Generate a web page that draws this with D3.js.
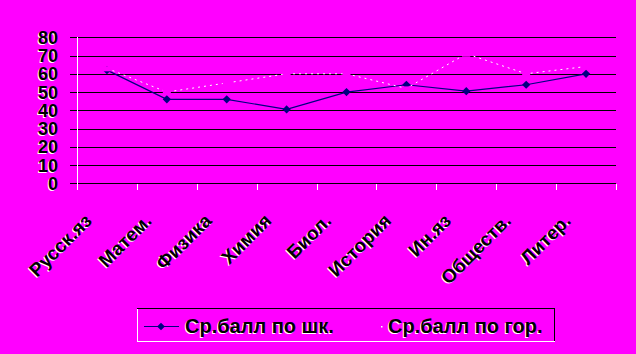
<!DOCTYPE html>
<html>
<head>
<meta charset="utf-8">
<script src="https://cdn.jsdelivr.net/npm/d3@7"></script>
<style>
  body { margin: 0; background: #ff00ff; }
  text { font-family: "Liberation Sans", Arial, sans-serif; font-weight: bold; }
</style>
</head>
<body>
<div id="chart"></div>
<script>
// data
var subjects = ["Русск.яз", "Матем.", "Физика", "Химия", "Биол.", "История", "Ин.яз", "Обществ.", "Литер."];
var schoolAvg = [62, 46, 46, 40.5, 50, 54, 50.5, 54, 60];
var cityAvg = [63, 50, 55, 60, 60, 52, 71, 60, 64];
var yTicks = [0, 10, 20, 30, 40, 50, 60, 70, 80];
var seriesNames = ["Ср.балл по шк.", "Ср.балл по гор."];

var svgWidth = 636;
var svgHeight = 354;
var bg = "#ff00ff";

var svg = d3.select("#chart")
  .append("svg")
  .attr("width", svgWidth)
  .attr("height", svgHeight)
  .style("display", "block");

svg.append("rect")
  .attr("width", svgWidth)
  .attr("height", svgHeight)
  .attr("fill", bg);

var xScale = d3.scaleBand()
  .domain(subjects)
  .range([77, 616]);

var yScale = d3.scaleLinear()
  .domain([0, 80])
  .range([183.3, 37.3]);

// gridlines (black) incl. outside ticks on the left
svg.append("g")
  .selectAll("line")
  .data(yTicks)
  .enter()
  .append("line")
  .attr("x1", 70)
  .attr("x2", 616)
  .attr("y1", d => Math.round(yScale(d)) + 0.5)
  .attr("y2", d => Math.round(yScale(d)) + 0.5)
  .attr("stroke", "#000")
  .attr("stroke-width", 1);

// y tick labels with white shadow
var yLab = svg.append("g");
[["#fff", -1, 1], ["#000", 0, 0]].forEach(function(s) {
  yLab.selectAll(null)
    .data(yTicks)
    .enter()
    .append("text")
    .attr("x", 58 + s[1])
    .attr("y", d => yScale(d) + s[2])
    .attr("dy", "0.36em")
    .attr("text-anchor", "end")
    .style("font-size", "18px")
    .attr("fill", s[0])
    .text(d => d);
});

// y axis line (white)
svg.append("line")
  .attr("x1", 77.5).attr("x2", 77.5)
  .attr("y1", 37).attr("y2", 190)
  .attr("stroke", "#fff");

// category ticks (white)
var tickXs = subjects.map(d => xScale(d)).concat([xScale.range()[1]]);
svg.append("g")
  .selectAll("line")
  .data(tickXs)
  .enter()
  .append("line")
  .attr("x1", d => Math.round(d) + 0.5)
  .attr("x2", d => Math.round(d) + 0.5)
  .attr("y1", 184)
  .attr("y2", 190)
  .attr("stroke", "#fff");

// x labels rotated, white shadow
var xLab = svg.append("g");
[["#fff", -1, 1], ["#000", 0, 0]].forEach(function(s) {
  xLab.selectAll(null)
    .data(subjects)
    .enter()
    .append("text")
    .attr("transform", d => "translate(" + (xScale(d) + xScale.bandwidth() / 2 - 14 + s[1]) + "," + (222 + s[2]) + ") rotate(-45)")
    .attr("text-anchor", "end")
    .style("font-size", "19px")
    .attr("fill", s[0])
    .text(d => d);
});

var cx = d => xScale(d) + xScale.bandwidth() / 2;

// school line
var schoolLine = d3.line()
  .x((d, i) => cx(subjects[i]))
  .y(d => yScale(d));

svg.append("path")
  .datum(schoolAvg)
  .attr("d", schoolLine)
  .attr("fill", "none")
  .attr("stroke", "#000080")
  .attr("stroke-width", 1.2);

svg.append("g")
  .selectAll("path")
  .data(schoolAvg)
  .enter()
  .append("path")
  .attr("d", d3.symbol(d3.symbolSquare, 34))
  .attr("transform", (d, i) => "translate(" + cx(subjects[i]) + "," + yScale(d) + ") rotate(45)")
  .attr("fill", "#000080");

// city line: thin white stipple, markers in background colour
svg.append("path")
  .datum(cityAvg)
  .attr("d", schoolLine)
  .attr("fill", "none")
  .attr("stroke", "#fff")
  .attr("stroke-width", 1)
  .attr("stroke-dasharray", "2,4");

svg.append("g")
  .selectAll("rect")
  .data(cityAvg)
  .enter()
  .append("rect")
  .attr("x", (d, i) => cx(subjects[i]) - 4)
  .attr("y", d => yScale(d) - 2)
  .attr("width", 8)
  .attr("height", 5)
  .attr("fill", bg);

// legend
var lg = svg.append("g");
lg.append("line").attr("x1", 137).attr("x2", 555).attr("y1", 308.5).attr("y2", 308.5).attr("stroke", "#000");
lg.append("line").attr("x1", 554.5).attr("x2", 554.5).attr("y1", 308).attr("y2", 342).attr("stroke", "#000");
lg.append("line").attr("x1", 137.5).attr("x2", 137.5).attr("y1", 309).attr("y2", 342).attr("stroke", "#fff");
lg.append("line").attr("x1", 137).attr("x2", 555).attr("y1", 341.5).attr("y2", 341.5).attr("stroke", "#fff");

lg.append("line")
  .attr("x1", 144).attr("x2", 179)
  .attr("y1", 326.5).attr("y2", 326.5)
  .attr("stroke", "#000080").attr("stroke-width", 1.2);
lg.append("path")
  .attr("d", d3.symbol(d3.symbolSquare, 30))
  .attr("transform", "translate(161,326.5) rotate(45)")
  .attr("fill", "#000080");
lg.append("rect")
  .attr("x", 381).attr("y", 326).attr("width", 1.5).attr("height", 1.5)
  .attr("fill", "#fff");

var legendX = [185, 388];
[["#fff", -1, 1], ["#000", 0, 0]].forEach(function(s) {
  lg.selectAll(null)
    .data(seriesNames)
    .enter()
    .append("text")
    .attr("x", (d, i) => legendX[i] + s[1])
    .attr("y", 333 + s[2])
    .style("font-size", "20px")
    .attr("fill", s[0])
    .text(d => d);
});
</script>
</body>
</html>
